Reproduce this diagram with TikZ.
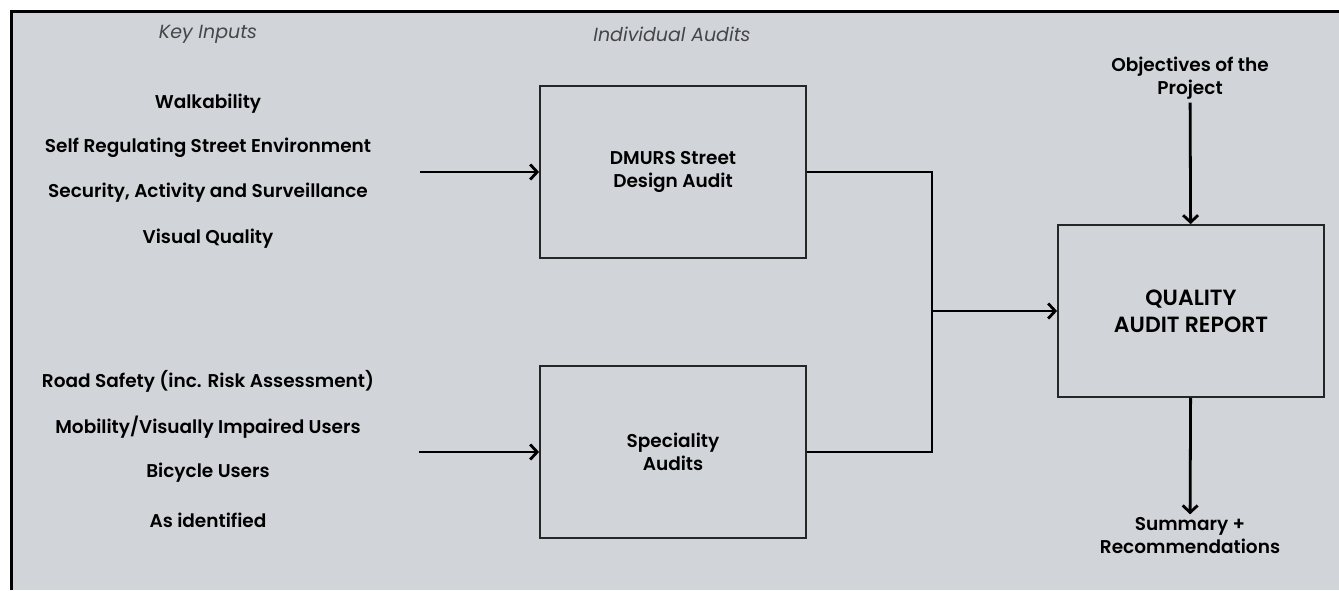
\documentclass[tikz,border=0pt]{standalone}
\usepackage{fontspec}
\setmainfont{Poppins}[BoldFont={Poppins SemiBold}, ItalicFont={Poppins Italic}]
\usetikzlibrary{positioning,arrows.meta}

\definecolor{panelgray}{RGB}{209,212,216}
\definecolor{headgray}{RGB}{70,70,72}

\tikzset{
	box/.style={draw=black!85, line width=1.8pt, minimum width=266pt, minimum height=172pt, align=center, font=\bfseries\fontsize{18.5}{23}\selectfont},
	bigbox/.style={box, font=\bfseries\fontsize{22}{27}\selectfont},
	input/.style={font=\bfseries\fontsize{18.5}{23}\selectfont, align=center},
	head/.style={font=\itshape\fontsize{19}{23}\selectfont, text=headgray},
	flow/.style={-{Straight Barb[length=7pt,width=15pt,line width=2.8pt]}, line width=2.8pt},
	link/.style={line width=2.8pt}
}

\begin{document}
\begin{tikzpicture}[x=1pt, y=-1pt]
	\useasboundingbox (0,0) rectangle (1339,590);
	\fill[panelgray] (10,10) rectangle (1339,590);
	\draw[line width=3pt] (11,590) -- (11,11) -- (1339,11);

	% column headings
	\node[head]	(keyhead)	at (208,34)	{Key Inputs};
	\node[head]	(audhead)	at (672,34)	{Individual Audits};

	% key inputs
	\node[input]	(walk)	at (208,104)	{Walkability};
	\node[input]	(selfreg)	at (208,148)	{Self Regulating Street Environment};
	\node[input]	(secur)	at (208,193)	{Security, Activity and Surveillance};
	\node[input]	(visual)	at (208,239)	{Visual Quality};
	\node[input]	(road)	at (208,381)	{Road Safety (inc. Risk Assessment)};
	\node[input]	(mobil)	at (208,427)	{Mobility/Visually Impaired Users};
	\node[input]	(bike)	at (208,473)	{Bicycle Users};
	\node[input]	(asid)	at (208,520)	{As identified};

	% audits
	\node[box]	(dmurs)	at (673,172)	{DMURS Street\\Design Audit};
	\node[box]	(spec)	at (673,452)	{Speciality\\Audits};
	\node[bigbox]	(qar)	at (1191,311)	{QUALITY\\AUDIT REPORT};

	\node[input]	(obj)	at (1190,78)	{Objectives of the\\Project};
	\node[input]	(summ)	at (1190,536)	{Summary +\\Recommendations};

	\coordinate	(topin)	at (420,172);
	\coordinate	(botin)	at (419,452);
	\coordinate	(join)	at (932,311);

	\draw[flow]	(topin) -- (dmurs);
	\draw[flow]	(botin) -- (spec);
	\draw[link]	(dmurs.east) -| (join);
	\draw[link]	(spec.east) -| (join);
	\draw[flow]	(join) -- (qar);
	\draw[flow]	(obj) -- (qar);
	\draw[flow]	(qar) -- (summ);

\end{tikzpicture}
\end{document}
